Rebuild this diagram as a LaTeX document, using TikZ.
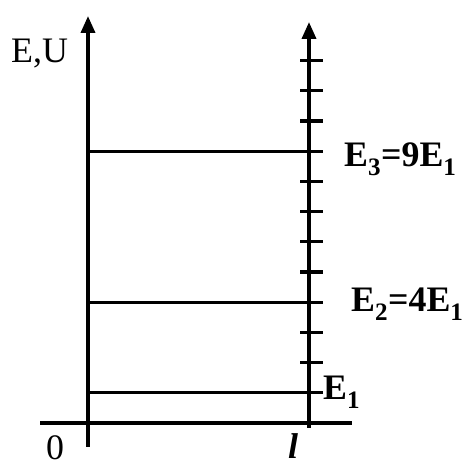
\documentclass[tikz,border=0pt]{standalone}
\usepackage{fontspec}
\setmainfont{Liberation Serif}
\usetikzlibrary{arrows.meta, positioning}

\begin{document}
\begin{tikzpicture}[x=1bp, y=1bp,
  axis/.style={line width=3.6bp, -{Triangle[width=14bp, length=17bp]}},
  level/.style={line width=2.8bp},
  tickmark/.style={line width=3.2bp},
  lbl/.style={font=\fontsize{36}{40}\selectfont, inner sep=0pt, anchor=base west},
  elbl/.style={font=\fontsize{36}{40}\selectfont\bfseries, inner sep=0pt, anchor=base west}
]
\useasboundingbox (0,0) rectangle (466,467);

\coordinate (xstart) at (40,44);
\coordinate (xend) at (352,44);
\coordinate (ubot) at (88,20);
\coordinate (utop) at (88,451);
\coordinate (wbot) at (309,39);
\coordinate (wtop) at (309,445);

\draw[line width=3.6bp] (xstart) -- (xend);
\draw[axis] (ubot) -- (utop);
\draw[axis] (wbot) -- (wtop);

% ticks on the right axis
\foreach \k in {1,...,12}
  \draw[tickmark] (300,44+30.2*\k) -- (323,44+30.2*\k);

% energy levels
\coordinate (lev1) at (88,74.2);
\coordinate (lev2) at (88,164.8);
\coordinate (lev3) at (88,315.8);
\draw[level] (lev1) -- (lev1 -| wtop);
\draw[level] (lev2) -- (lev2 -| wtop);
\draw[level] (lev3) -- (lev3 -| wtop);

\node[lbl] (eu) at (11,404) {E,U};
\node[lbl] (zero) at (46,7) {0};
\node[lbl, font=\fontsize{36}{40}\selectfont\bfseries\itshape] (len) at (288,8) {l};
\node[elbl] (e1) at (323,67) {E\textsubscript{1}};
\node[elbl] (e2) at (351,155) {E\textsubscript{2}=4E\textsubscript{1}};
\node[elbl] (e3) at (344,300) {E\textsubscript{3}=9E\textsubscript{1}};
\end{tikzpicture}
\end{document}
